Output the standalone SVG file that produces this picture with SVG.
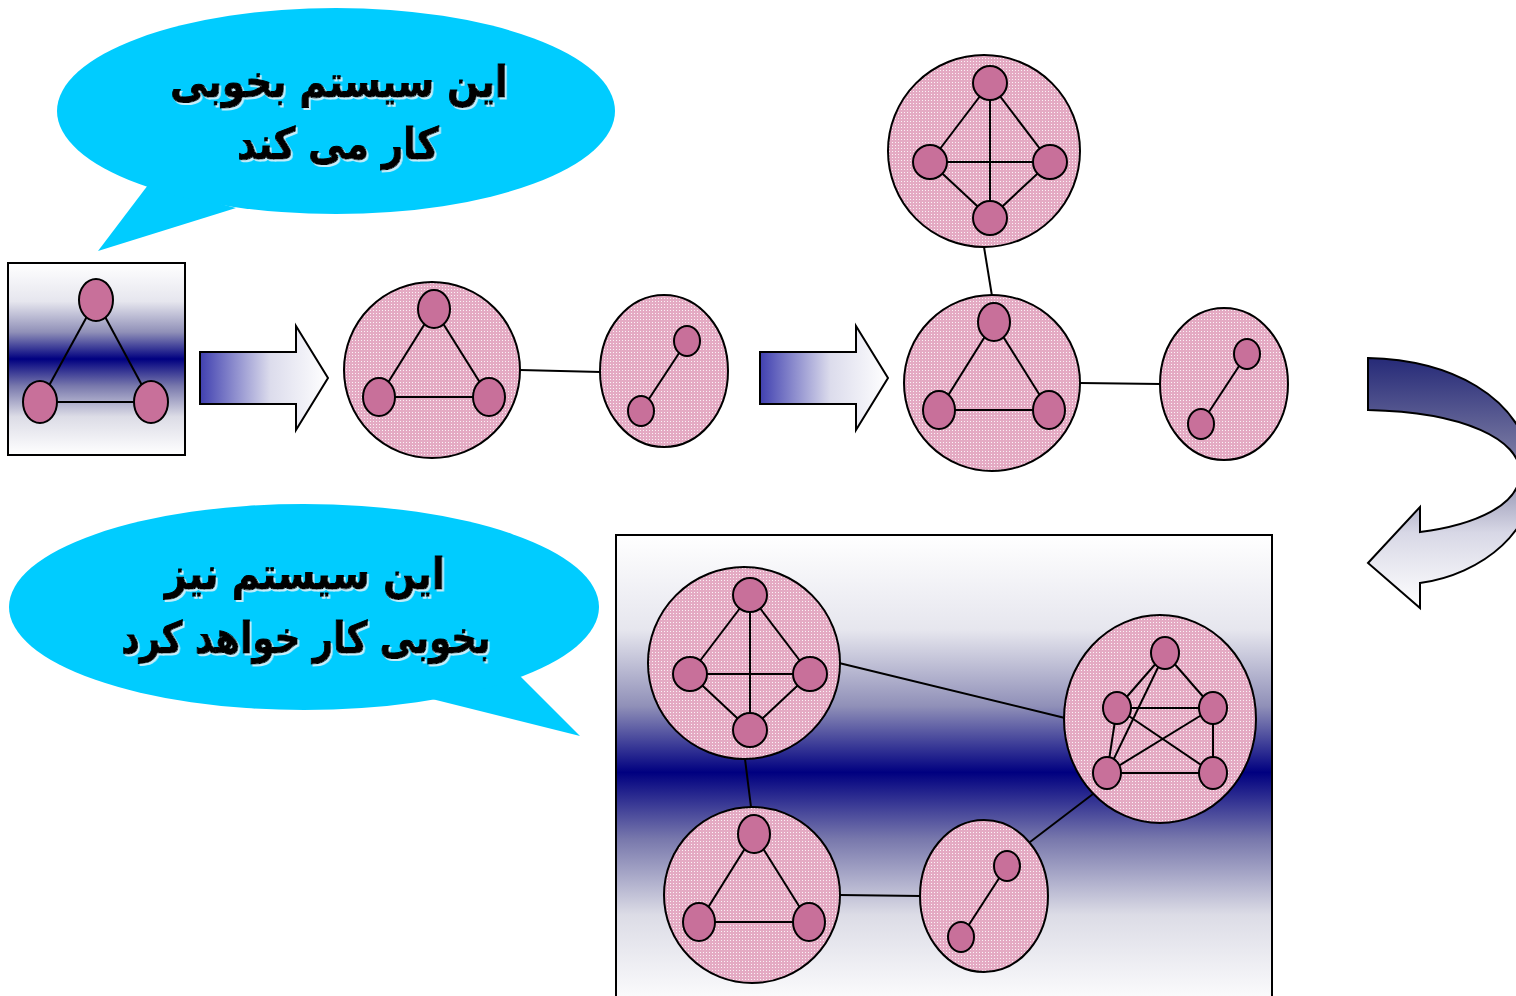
<svg xmlns="http://www.w3.org/2000/svg" width="1516" height="996" viewBox="0 0 1516 996">
<style>
.cl{fill:url(#pk);stroke:#000;stroke-width:2}
.nd{fill:#C8709A;stroke:#000;stroke-width:2}
.ln{stroke:#000;stroke-width:2;fill:none}
.bb{fill:#00CCFF}
.tx{font-family:"DejaVu Sans",sans-serif;font-weight:bold;font-size:44px;fill:#000;stroke:#000;stroke-width:1;text-anchor:middle;filter:url(#sh)}
</style>
<defs>
<pattern id="pk" width="3" height="3" patternUnits="userSpaceOnUse">
<rect width="3" height="3" fill="#E4AAC3"/>
<rect x="1" y="1" width="1" height="1" fill="#FFFFFF" opacity="0.85"/>
</pattern>
<linearGradient id="bx" x1="0" y1="0" x2="0" y2="1">
<stop offset="0" stop-color="#FFFFFF"/>
<stop offset="0.2" stop-color="#E6E6EE"/>
<stop offset="0.36" stop-color="#9090B8"/>
<stop offset="0.5" stop-color="#000080"/>
<stop offset="0.64" stop-color="#7878AC"/>
<stop offset="0.8" stop-color="#DCDCE6"/>
<stop offset="1" stop-color="#FFFFFF"/>
</linearGradient>
<linearGradient id="ar" x1="0" y1="0" x2="1" y2="0">
<stop offset="0" stop-color="#4040B0"/>
<stop offset="0.55" stop-color="#DCDCEC"/>
<stop offset="1" stop-color="#FFFFFF"/>
</linearGradient>
<linearGradient id="cv" x1="0" y1="0" x2="0" y2="1">
<stop offset="0" stop-color="#262A78"/>
<stop offset="0.45" stop-color="#8686A8"/>
<stop offset="0.7" stop-color="#D8D8E6"/>
<stop offset="1" stop-color="#FFFFFF"/>
</linearGradient>
<filter id="sh" x="-10%" y="-20%" width="120%" height="150%">
<feDropShadow dx="2" dy="2" stdDeviation="0.5" flood-color="#C8EEFA" flood-opacity="1"/>
</filter>
</defs>

<g id="bubble1">
<path class="bb" d="M148,185 L98,251 L236,208 Z"/>
<ellipse class="bb" cx="336" cy="111" rx="279" ry="103"/>
<text class="tx" transform="translate(339,97) scale(0.85,1)" direction="rtl">این سیستم بخوبی</text>
<text class="tx" transform="translate(338,159) scale(0.845,1)" direction="rtl">کار می کند</text>
</g>

<g id="bubble2">
<path class="bb" d="M520,676 L580,736 L432,699 Z"/>
<ellipse class="bb" cx="304" cy="607" rx="295" ry="103"/>
<text class="tx" transform="translate(305,589) scale(0.87,1)" direction="rtl">این سیستم نیز</text>
<text class="tx" transform="translate(306,653) scale(0.81,1)" direction="rtl">بخوبی کار خواهد کرد</text>
</g>

<g id="box1">
<rect x="8" y="263" width="177" height="192" fill="url(#bx)" stroke="#000" stroke-width="2"/>
<line class="ln" x1="96" y1="300" x2="40" y2="402"/>
<line class="ln" x1="96" y1="300" x2="151" y2="402"/>
<line class="ln" x1="40" y1="402" x2="151" y2="402"/>
<ellipse class="nd" cx="96" cy="300" rx="17" ry="21"/>
<ellipse class="nd" cx="40" cy="402" rx="17" ry="21"/>
<ellipse class="nd" cx="151" cy="402" rx="17" ry="21"/>
</g>

<g id="arrow1">
<path d="M200,352 L296,352 L296,326 L328,378 L296,430 L296,404 L200,404 Z" fill="url(#ar)" stroke="#000" stroke-width="2"/>
</g>
<g id="arrow2">
<path d="M760,352 L856,352 L856,326 L888,378 L856,430 L856,404 L760,404 Z" fill="url(#ar)" stroke="#000" stroke-width="2"/>
</g>
<g id="curvedArrow">
<path d="M1368,358 C1450,360 1520,395 1532,465 C1542,530 1480,575 1420,583 L1420,608 L1368,563 L1420,507 L1420,532 C1475,525 1520,505 1520,473 C1520,440 1465,412 1368,410 Z" fill="url(#cv)" stroke="#000" stroke-width="2"/>
</g>

<g id="box2">
<rect x="616" y="535" width="656" height="475" fill="url(#bx)" stroke="#000" stroke-width="2"/>
</g>

<g id="connectors">
<line class="ln" x1="520" y1="370" x2="601" y2="372"/>
<line class="ln" x1="984" y1="247" x2="992" y2="296"/>
<line class="ln" x1="1080" y1="383" x2="1161" y2="384"/>
<line class="ln" x1="839" y1="663" x2="1065" y2="718"/>
<line class="ln" x1="745" y1="759" x2="751" y2="807"/>
<line class="ln" x1="840" y1="895" x2="921" y2="896"/>
<line class="ln" x1="1030" y1="842" x2="1093" y2="794"/>
</g>

<g id="nodeA">
<circle class="cl" cx="432" cy="370" r="88"/>
<line class="ln" x1="434" y1="309" x2="379" y2="397"/>
<line class="ln" x1="434" y1="309" x2="489" y2="397"/>
<line class="ln" x1="379" y1="397" x2="489" y2="397"/>
<ellipse class="nd" cx="434" cy="309" rx="16" ry="19"/>
<ellipse class="nd" cx="379" cy="397" rx="16" ry="19"/>
<ellipse class="nd" cx="489" cy="397" rx="16" ry="19"/>
</g>

<g id="nodeB">
<ellipse class="cl" cx="664" cy="371" rx="64" ry="76"/>
<line class="ln" x1="687" y1="341" x2="641" y2="411"/>
<ellipse class="nd" cx="687" cy="341" rx="13" ry="15"/>
<ellipse class="nd" cx="641" cy="411" rx="13" ry="15"/>
</g>

<g id="nodeC">
<circle class="cl" cx="992" cy="383" r="88"/>
<line class="ln" x1="994" y1="322" x2="939" y2="410"/>
<line class="ln" x1="994" y1="322" x2="1049" y2="410"/>
<line class="ln" x1="939" y1="410" x2="1049" y2="410"/>
<ellipse class="nd" cx="994" cy="322" rx="16" ry="19"/>
<ellipse class="nd" cx="939" cy="410" rx="16" ry="19"/>
<ellipse class="nd" cx="1049" cy="410" rx="16" ry="19"/>
</g>

<g id="nodeD">
<circle class="cl" cx="984" cy="151" r="96"/>
<line class="ln" x1="990" y1="83" x2="930" y2="162"/>
<line class="ln" x1="990" y1="83" x2="1050" y2="162"/>
<line class="ln" x1="930" y1="162" x2="990" y2="218"/>
<line class="ln" x1="1050" y1="162" x2="990" y2="218"/>
<line class="ln" x1="930" y1="162" x2="1050" y2="162"/>
<line class="ln" x1="990" y1="83" x2="990" y2="218"/>
<ellipse class="nd" cx="990" cy="83" rx="17" ry="17"/>
<ellipse class="nd" cx="930" cy="162" rx="17" ry="17"/>
<ellipse class="nd" cx="1050" cy="162" rx="17" ry="17"/>
<ellipse class="nd" cx="990" cy="218" rx="17" ry="17"/>
</g>

<g id="nodeE">
<ellipse class="cl" cx="1224" cy="384" rx="64" ry="76"/>
<line class="ln" x1="1247" y1="354" x2="1201" y2="424"/>
<ellipse class="nd" cx="1247" cy="354" rx="13" ry="15"/>
<ellipse class="nd" cx="1201" cy="424" rx="13" ry="15"/>
</g>

<g id="nodeF">
<circle class="cl" cx="744" cy="663" r="96"/>
<line class="ln" x1="750" y1="595" x2="690" y2="674"/>
<line class="ln" x1="750" y1="595" x2="810" y2="674"/>
<line class="ln" x1="690" y1="674" x2="750" y2="730"/>
<line class="ln" x1="810" y1="674" x2="750" y2="730"/>
<line class="ln" x1="690" y1="674" x2="810" y2="674"/>
<line class="ln" x1="750" y1="595" x2="750" y2="730"/>
<ellipse class="nd" cx="750" cy="595" rx="17" ry="17"/>
<ellipse class="nd" cx="690" cy="674" rx="17" ry="17"/>
<ellipse class="nd" cx="810" cy="674" rx="17" ry="17"/>
<ellipse class="nd" cx="750" cy="730" rx="17" ry="17"/>
</g>

<g id="nodeG">
<ellipse class="cl" cx="1160" cy="719" rx="96" ry="104"/>
<line class="ln" x1="1165" y1="653" x2="1117" y2="708"/>
<line class="ln" x1="1165" y1="653" x2="1213" y2="708"/>
<line class="ln" x1="1165" y1="653" x2="1107" y2="773"/>
<line class="ln" x1="1117" y1="708" x2="1213" y2="708"/>
<line class="ln" x1="1117" y1="708" x2="1107" y2="773"/>
<line class="ln" x1="1117" y1="708" x2="1213" y2="773"/>
<line class="ln" x1="1213" y1="708" x2="1107" y2="773"/>
<line class="ln" x1="1213" y1="708" x2="1213" y2="773"/>
<line class="ln" x1="1107" y1="773" x2="1213" y2="773"/>
<ellipse class="nd" cx="1165" cy="653" rx="14" ry="16"/>
<ellipse class="nd" cx="1117" cy="708" rx="14" ry="16"/>
<ellipse class="nd" cx="1213" cy="708" rx="14" ry="16"/>
<ellipse class="nd" cx="1107" cy="773" rx="14" ry="16"/>
<ellipse class="nd" cx="1213" cy="773" rx="14" ry="16"/>
</g>

<g id="nodeH">
<circle class="cl" cx="752" cy="895" r="88"/>
<line class="ln" x1="754" y1="834" x2="699" y2="922"/>
<line class="ln" x1="754" y1="834" x2="809" y2="922"/>
<line class="ln" x1="699" y1="922" x2="809" y2="922"/>
<ellipse class="nd" cx="754" cy="834" rx="16" ry="19"/>
<ellipse class="nd" cx="699" cy="922" rx="16" ry="19"/>
<ellipse class="nd" cx="809" cy="922" rx="16" ry="19"/>
</g>

<g id="nodeI">
<ellipse class="cl" cx="984" cy="896" rx="64" ry="76"/>
<line class="ln" x1="1007" y1="866" x2="961" y2="937"/>
<ellipse class="nd" cx="1007" cy="866" rx="13" ry="15"/>
<ellipse class="nd" cx="961" cy="937" rx="13" ry="15"/>
</g>
</svg>
